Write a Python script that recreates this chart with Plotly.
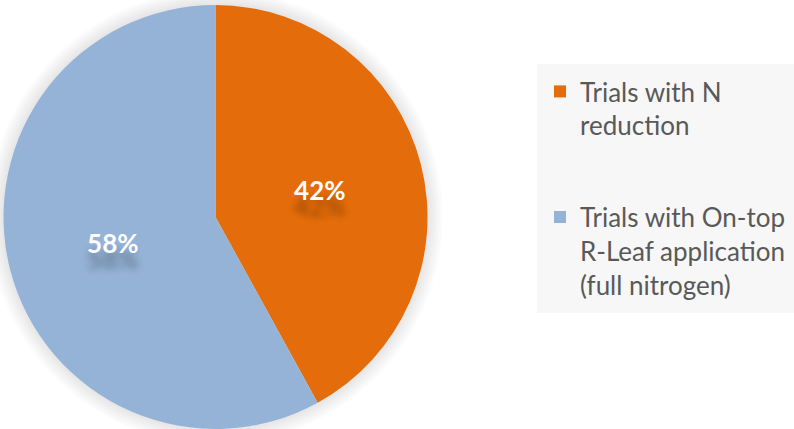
import plotly.graph_objects as go

categories = ["Trials with N<br>reduction", "Trials with On-top<br>R-Leaf application<br>(full nitrogen)"]
values = [42, 58]
colors = ["#E46C0A", "#95B3D7"]

W, H = 794, 429
# pie geometry (pixels)
cx, R = 215.5, 212

dom_x = [(cx - R) / W, (cx + R) / W]
dom_y = [0, min(1, 2 * R / H)]

fig = go.Figure()
fig.add_trace(go.Pie(
    labels=categories,
    values=values,
    sort=False,
    direction="clockwise",
    rotation=0,
    marker=dict(colors=colors, line=dict(width=0)),
    textinfo="percent",
    texttemplate="%{percent:.0%}",
    textposition="inside",
    insidetextorientation="horizontal",
    textfont=dict(family="Lato", size=26, color="white", weight="bold",
                  shadow="0px 16px 7px rgba(0,0,0,0.3)"),
    domain=dict(x=dom_x, y=dom_y),
    showlegend=False,
    hoverinfo="label+percent",
))

# legend entries
for i, (name, c) in enumerate(zip(categories, colors)):
    fig.add_trace(go.Scatter(
        x=[None], y=[None], mode="markers", name=name,
        legendgroup=f"g{i}",
        marker=dict(symbol="square", size=14, color=c, line=dict(width=0)),
    ))

# soft halo around pie
halo = []
pcx = (dom_x[0] + dom_x[1]) / 2 * W
pcy = H - (dom_y[0] + dom_y[1]) / 2 * H
pr = (dom_y[1] - dom_y[0]) * H / 2
for k in range(1, 7):
    rr = pr + 2.5 * k
    halo.append(dict(type="circle", xref="paper", yref="paper",
                     x0=(pcx - rr) / W, x1=(pcx + rr) / W,
                     y0=(H - (pcy + rr)) / H, y1=(H - (pcy - rr)) / H,
                     fillcolor="rgba(0,0,0,0.014)", line=dict(width=0), layer="below"))

fig.update_layout(
    width=W, height=H,
    margin=dict(l=0, r=0, t=0, b=0),
    paper_bgcolor="white",
    plot_bgcolor="rgba(0,0,0,0)",
    showlegend=True,
    xaxis=dict(visible=False, domain=[0.99, 1]),
    yaxis=dict(visible=False, domain=[0.99, 1]),
    legend=dict(
        x=540 / W, xanchor="left",
        y=(H - 68) / H, yanchor="top",
        bgcolor="rgba(0,0,0,0)",
        font=dict(family="Lato", size=26, color="#595959"),
        valign="top",
        tracegroupgap=55,
        itemsizing="constant",
    ),
    shapes=halo + [dict(type="rect", xref="paper", yref="paper",
                        x0=537 / W, x1=1, y0=(H - 313) / H, y1=(H - 64) / H,
                        fillcolor="#F7F7F7", line=dict(width=0), layer="below")],
)

fig.write_html("out.html", config={"displayModeBar": False},
               post_script="document.body.style.margin='0';")
